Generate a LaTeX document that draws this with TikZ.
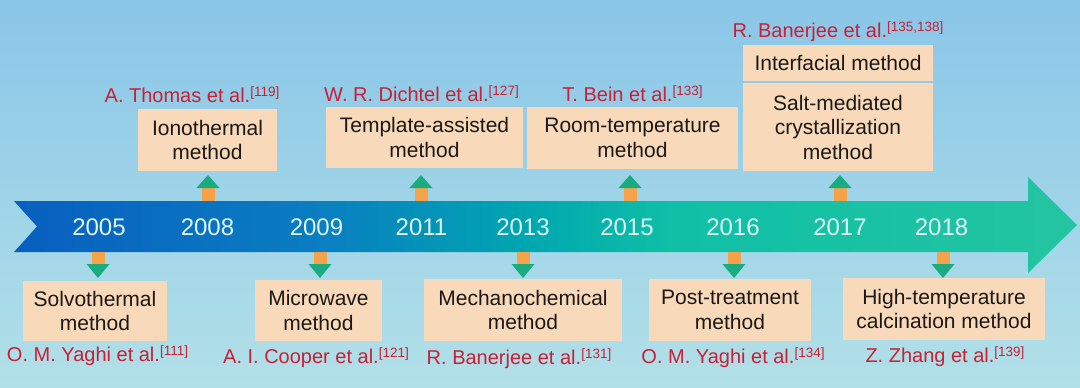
\documentclass[tikz,border=0pt]{standalone}
\usepackage{fontspec}
\setmainfont{Liberation Sans}
\definecolor{bgtop}{RGB}{138,198,232}
\definecolor{bgbot}{RGB}{178,224,232}
\definecolor{boxfill}{RGB}{248,217,186}
\definecolor{refred}{RGB}{200,32,52}
\definecolor{arrorange}{RGB}{246,162,72}
\definecolor{arrgreen}{RGB}{24,172,128}
\definecolor{yearcol}{RGB}{225,246,250}
\definecolor{boxtext}{RGB}{28,24,22}
\pgfdeclarehorizontalshading{bandshade}{100bp}{rgb(0bp)=(0.03,0.37,0.75); rgb(25bp)=(0.03,0.37,0.75); rgb(39bp)=(0.04,0.49,0.76); rgb(49bp)=(0,0.65,0.69); rgb(56bp)=(0.06,0.75,0.65); rgb(75bp)=(0.14,0.77,0.63); rgb(100bp)=(0.14,0.77,0.63)}
\newcommand\refsup[1]{\raisebox{5.5pt}{\fontsize{13.5}{14}\selectfont[#1]}}
\begin{document}
\begin{tikzpicture}[x=1pt,y=-1pt,
 box/.style={fill=boxfill, text=boxtext, inner sep=0pt, align=center, font=\fontsize{21}{24.5}\selectfont},
 ref/.style={text=refred, anchor=base, inner sep=0pt, font=\fontsize{20}{24}\selectfont},
 year/.style={text=yearcol, anchor=base, inner sep=0pt, font=\fontsize{24}{28}\selectfont},
 pics/downarr/.style={code={\fill[arrorange] (-6.5,0) rectangle (6.5,13); \fill[arrgreen] (-11.5,12) -- (11.5,12) -- (0,26) -- cycle;}},
 pics/uparr/.style={code={\fill[arrorange] (-6.5,0) rectangle (6.5,-14); \fill[arrgreen] (-11.5,-13) -- (11.5,-13) -- (0,-26) -- cycle;}}
]
\useasboundingbox (0,0) rectangle (1080,388);
\shade[top color=bgtop, bottom color=bgbot] (0,0) rectangle (1080,388);
% timeline band
\shade[shading=bandshade] (14,201) -- (1028,201) -- (1028,177) -- (1077,225) -- (1028,273) -- (1028,252) -- (14,252) -- (37,226.5) -- cycle;
% years
\node[year] (y2005) at (99,235) {2005};
\node[year] (y2008) at (207.5,235) {2008};
\node[year] (y2009) at (316.5,235) {2009};
\node[year] (y2011) at (421.5,235) {2011};
\node[year] (y2013) at (523,235) {2013};
\node[year] (y2015) at (627,235) {2015};
\node[year] (y2016) at (733,235) {2016};
\node[year] (y2017) at (840,235) {2017};
\node[year] (y2018) at (941.5,235) {2018};
% top boxes
\node[box, minimum width=139pt, minimum height=62pt] (ion) at (207.5,140) {Ionothermal\\method};
\node[box, minimum width=197pt, minimum height=61pt] (tmpl) at (424.5,137.5) {Template-assisted\\method};
\node[box, minimum width=211pt, minimum height=62pt] (room) at (632.5,138) {Room-temperature\\method};
\node[box, minimum width=190pt, minimum height=36pt] (inter) at (838,63) {Interfacial method};
\node[box, minimum width=190pt, minimum height=88pt] (salt) at (838,127) {Salt-mediated\\crystallization\\method};
% bottom boxes
\node[box, minimum width=144pt, minimum height=60pt] (solvo) at (95,311) {Solvothermal\\method};
\node[box, minimum width=127pt, minimum height=61pt] (micro) at (318.5,310.5) {Microwave\\method};
\node[box, minimum width=198pt, minimum height=62pt] (mech) at (523,310) {Mechanochemical\\method};
\node[box, minimum width=162pt, minimum height=62pt] (post) at (730,310) {Post-treatment\\method};
\node[box, minimum width=202pt, minimum height=62pt] (high) at (944,309) {High-temperature\\calcination method};
% references
\node[ref] (r119) at (192,102) {A. Thomas et al.\refsup{119}};
\node[ref] (r127) at (421.5,101) {W. R. Dichtel et al.\refsup{127}};
\node[ref] (r133) at (632.5,101) {T. Bein et al.\refsup{133}};
\node[ref] (r135) at (838,37) {R. Banerjee et al.\refsup{135,138}};
\node[ref] (r111) at (97.5,361) {O. M. Yaghi et al.\refsup{111}};
\node[ref] (r121) at (316,363) {A. I. Cooper et al.\refsup{121}};
\node[ref] (r131) at (519,364) {R. Banerjee et al.\refsup{131}};
\node[ref] (r134) at (733,363) {O. M. Yaghi et al.\refsup{134}};
\node[ref] (r139) at (945,362) {Z. Zhang et al.\refsup{139}};
% small arrows
\coordinate (a2005) at (98,252);
\coordinate (a2009) at (320,252);
\coordinate (a2013) at (523,252);
\coordinate (a2016) at (734,252);
\coordinate (a2018) at (943,252);
\coordinate (a2008) at (208,201);
\coordinate (a2011) at (421,201);
\coordinate (a2015) at (630,201);
\coordinate (a2017) at (840,201);
\foreach \c in {a2005,a2009,a2013,a2016,a2018} \pic at (\c) {downarr};
\foreach \c in {a2008,a2011,a2015,a2017} \pic at (\c) {uparr};
\end{tikzpicture}
\end{document}
